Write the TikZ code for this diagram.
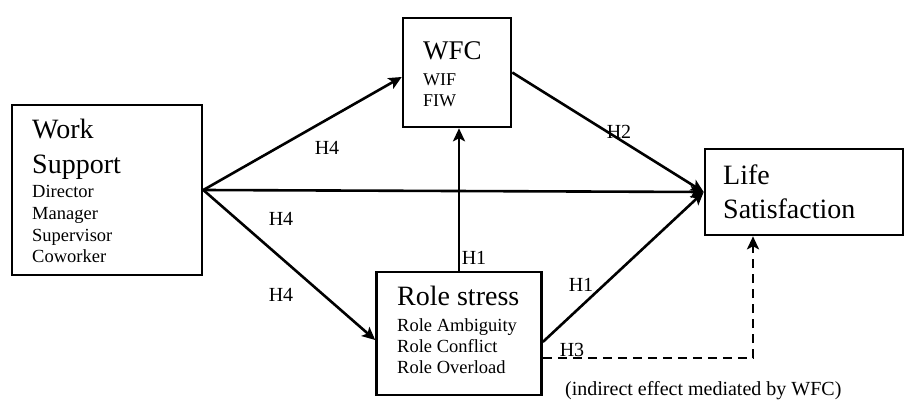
\documentclass[tikz,border=0pt]{standalone}
\usepackage{fontspec}
\setmainfont{Liberation Serif}
\usetikzlibrary{arrows.meta}
\begin{document}
\begin{tikzpicture}[x=1pt,y=-1pt,
  box/.style={draw, line width=2.6pt, inner sep=0pt, rectangle},
  titletext/.style={anchor=base west, inner sep=0pt, font=\fontsize{28}{34}\selectfont},
  subtext/.style={anchor=base west, inner sep=0pt, font=\fontsize{18.5}{21}\selectfont},
  lab/.style={inner sep=0pt, font=\fontsize{20}{24}\selectfont},
  conn/.style={line width=2.6pt, -{Stealth[length=13pt,width=12pt,inset=3pt]}},
  dconn/.style={conn, dash pattern=on 9pt off 6pt}
]
\useasboundingbox (0,0) rectangle (905,401);
% boxes
\node[box, minimum width=190pt, minimum height=170pt] (ws) at (107,190) {};
\node[box, minimum width=108pt, minimum height=109pt] (wfc) at (457,72.5) {};
\node[box, minimum width=165pt, minimum height=123pt] (rs) at (459,333.5) {};
\node[box, minimum width=198pt, minimum height=86pt] (ls) at (804,192) {};
% texts
\node[titletext] (t1) at (32,139) {Work};
\node[titletext] (t2) at (32,173) {Support};
\node[subtext] (s1) at (32,197) {Director};
\node[subtext] (s2) at (32,219) {Manager};
\node[subtext] (s3) at (32,241) {Supervisor};
\node[subtext] (s4) at (32,262) {Coworker};
\node[titletext, font=\fontsize{27}{32}\selectfont] (t3) at (423,60) {WFC};
\node[subtext, font=\fontsize{18}{21}\selectfont] (s5) at (423,86) {WIF};
\node[subtext, font=\fontsize{18}{21}\selectfont] (s6) at (423,107) {FIW};
\node[titletext] (t4) at (397,305) {Role stress};
\node[subtext] (s7) at (397,331) {Role Ambiguity};
\node[subtext] (s8) at (397,352) {Role Conflict};
\node[subtext] (s9) at (397,373) {Role Overload};
\node[titletext] (t5) at (723,185) {Life};
\node[titletext] (t6) at (723,218) {Satisfaction};
% connectors
\draw[conn] (ws.east) -- ([yshift=-4.5pt]wfc.west);
\draw[conn] (ws.east) -- (ls.west);
\draw[conn] (ws.east) -- ([yshift=-6.5pt]rs.west);
\draw[conn] (wfc.east) -- (ls.west);
\draw[conn] (rs.north) -- (rs.north |- wfc.south);
\draw[conn] ([yshift=-8.5pt]rs.east) -- (ls.west);
\draw[dconn] ([yshift=-24.5pt]rs.east) -| ([xshift=-51pt]ls.south);
% labels
\node[lab] (h4a) at (327,148) {H4};
\node[lab] (h4b) at (281,219) {H4};
\node[lab] (h4c) at (281,295) {H4};
\node[lab] (h1a) at (474,258) {H1};
\node[lab] (h2) at (619,132) {H2};
\node[lab] (h1b) at (581,285) {H1};
\node[lab] (h3) at (572,350) {H3};
\node[anchor=base west, inner sep=0pt, font=\fontsize{20}{24}\selectfont] (cap) at (565,395) {(indirect effect mediated by WFC)};
\end{tikzpicture}
\end{document}
